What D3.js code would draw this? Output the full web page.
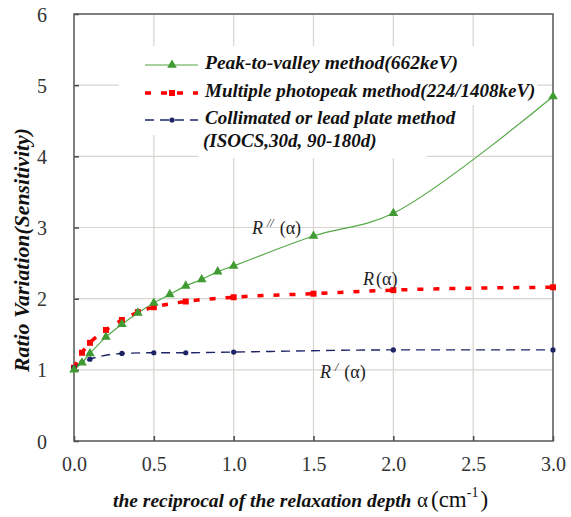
<!DOCTYPE html>
<html>
<head>
<meta charset="utf-8">
<script src="https://cdn.jsdelivr.net/npm/d3@7"></script>
<style>
  body { margin: 0; background: #fff; }
</style>
</head>
<body>
<svg id="chart" width="571" height="517"></svg>
<script>
// values
const peakX = [0, 0.05, 0.1, 0.2, 0.3, 0.4, 0.5, 0.6, 0.7, 0.8, 0.9, 1.0, 1.5, 2.0, 3.0];
const peakY = [1.0, 1.1, 1.23, 1.46, 1.64, 1.8, 1.94, 2.06, 2.18, 2.27, 2.38, 2.46, 2.88, 3.2, 4.84];

const multiX = [0, 0.05, 0.1, 0.2, 0.3, 0.4, 0.5, 0.7, 1.0, 1.5, 2.0, 3.0];
const multiY = [1.03, 1.24, 1.38, 1.56, 1.7, 1.81, 1.88, 1.96, 2.02, 2.07, 2.12, 2.16];

const collX = [0, 0.05, 0.1, 0.3, 0.5, 0.7, 1.0, 2.0, 3.0];
const collY = [1.03, 1.11, 1.15, 1.23, 1.24, 1.24, 1.25, 1.28, 1.28];

const xTicks = [0, 0.5, 1.0, 1.5, 2.0, 2.5, 3.0];
const yTicks = [0, 1, 2, 3, 4, 5, 6];

const legendLabels = [
	["Peak-to-valley method(662keV)"],
	["Multiple photopeak method(224/1408keV)"],
	["Collimated or lead plate method", "(ISOCS,30d, 90-180d)"]
];

const green = "#3f9b32", greenLine = "#52a844", red = "#ff0000", navy = "#1c2466";
const serif = "Liberation Serif";

const margin = { top: 14, right: 18, bottom: 76, left: 74 };
const width = 571 - margin.left - margin.right;
const height = 517 - margin.top - margin.bottom;

const svg = d3.select("#chart").attr("font-family", serif);
const g = svg.append("g").attr("transform", `translate(${margin.left},${margin.top})`);

const x = d3.scaleLinear().domain([0, 3]).range([0, width]);
const y = d3.scaleLinear().domain([0, 6]).range([height, 0]);

// grid
g.append("g")
	.selectAll("line")
	.data(xTicks.slice(1, -1))
	.join("line")
	.attr("x1", d => x(d)).attr("x2", d => x(d))
	.attr("y1", 0).attr("y2", height)
	.attr("stroke", "#d8d4cf").attr("stroke-width", 1.2);

g.append("g")
	.selectAll("line")
	.data(yTicks.slice(1, -1))
	.join("line")
	.attr("y1", d => y(d)).attr("y2", d => y(d))
	.attr("x1", 0).attr("x2", width)
	.attr("stroke", "#d8d4cf").attr("stroke-width", 1.2);

// legend background hides the grid behind the text
g.append("rect").attr("x", 45).attr("y", 32).attr("width", 418).attr("height", 59).attr("fill", "#fff");
g.append("rect").attr("x", 45).attr("y", 90).attr("width", 341).attr("height", 31).attr("fill", "#fff");
g.append("rect").attr("x", 124).attr("y", 120).attr("width", 229).attr("height", 24).attr("fill", "#fff");

// axes
const xAxis = d3.axisBottom(x).tickValues(xTicks).tickSize(-5).tickPadding(16).tickFormat(d3.format(".1f"));
const yAxis = d3.axisLeft(y).tickValues(yTicks).tickSize(-5).tickPadding(27).tickFormat(d3.format("d"));

const gx = g.append("g").attr("transform", `translate(0,${height})`).call(xAxis);
const gy = g.append("g").call(yAxis);

[gx, gy].forEach(a => {
	a.attr("font-family", serif);
	a.select(".domain").remove();
	a.selectAll("line").attr("stroke", "#444").attr("stroke-width", 1.5);
	a.selectAll("text").attr("font-size", 20).attr("fill", "#333");
});
gy.selectAll("text").attr("dy", "0.35em");

// frame
g.append("rect").attr("width", width).attr("height", height)
	.attr("fill", "none").attr("stroke", "#555").attr("stroke-width", 1.5);

// series
const series = [
	{ xs: peakX, ys: peakY, color: greenLine, width: 1.2, dash: null, curve: d3.curveCatmullRom },
	{ xs: multiX, ys: multiY, color: red, width: 3.5, dash: "6,10", curve: d3.curveMonotoneX },
	{ xs: collX, ys: collY, color: navy, width: 1.4, dash: "9,6", curve: d3.curveMonotoneX }
];

series.forEach(s => {
	const pts = s.xs.map((v, i) => [v, s.ys[i]]);
	const line = d3.line().x(d => x(d[0])).y(d => y(d[1])).curve(s.curve);
	g.append("path").datum(pts)
		.attr("d", line)
		.attr("fill", "none")
		.attr("stroke", s.color)
		.attr("stroke-width", s.width)
		.attr("stroke-dasharray", s.dash);
});

const tri = d3.symbol().type(d3.symbolTriangle).size(40);
const sq = d3.symbol().type(d3.symbolSquare).size(36);

g.append("g").selectAll("path")
	.data(multiX.map((v, i) => [v, multiY[i]]))
	.join("path")
	.attr("d", sq)
	.attr("transform", d => `translate(${x(d[0])},${y(d[1])})`)
	.attr("fill", red);

g.append("g").selectAll("circle")
	.data(collX.map((v, i) => [v, collY[i]]))
	.join("circle")
	.attr("cx", d => x(d[0])).attr("cy", d => y(d[1]))
	.attr("r", 2.6)
	.attr("fill", navy);

g.append("g").selectAll("path")
	.data(peakX.map((v, i) => [v, peakY[i]]))
	.join("path")
	.attr("d", tri)
	.attr("transform", d => `translate(${x(d[0])},${y(d[1])})`)
	.attr("fill", green);

// legend
const legendRows = [51, 79, 106];
const legendStyle = [
	{ color: greenLine, width: 1.2, dash: null, mark: "tri" },
	{ color: red, width: 3.5, dash: "6,10", mark: "sq" },
	{ color: navy, width: 1.4, dash: "9,6", mark: "dot" }
];

legendLabels.forEach((lines, i) => {
	const ly = legendRows[i];
	const st = legendStyle[i];
	const lg = g.append("g");
	lg.append("line")
		.attr("x1", 71).attr("x2", 124).attr("y1", ly).attr("y2", ly)
		.attr("stroke", st.color).attr("stroke-width", st.width)
		.attr("stroke-dasharray", st.dash);
	if (st.mark === "tri") {
		lg.append("path").attr("d", tri).attr("transform", `translate(98,${ly})`).attr("fill", green);
	} else if (st.mark === "sq") {
		lg.append("path").attr("d", sq).attr("transform", `translate(98,${ly})`).attr("fill", st.color);
	} else {
		lg.append("circle").attr("cx", 98).attr("cy", ly).attr("r", 2.6).attr("fill", st.color);
	}
	lines.forEach((t, j) => {
		lg.append("text")
			.attr("x", j ? 129 : 131).attr("y", ly + 4 + j * 23)
			.attr("font-size", i === 0 && !j ? 19.5 : 19).attr("font-style", "italic").attr("font-weight", "bold")
			.attr("fill", "#111")
			.text(t);
	});
});

// curve annotations
function annot(xp, yp, prime) {
	const t = g.append("text").attr("x", xp).attr("y", yp).attr("font-size", 18).attr("fill", "#222");
	t.append("tspan").attr("font-style", "italic").text("R");
	if (prime) t.append("tspan").attr("font-size", 12).attr("dy", -7).attr("dx", 4).attr("font-style", "italic").text(prime);
	t.append("tspan").attr("dy", prime ? 7 : 0).attr("dx", prime ? 6 : 2).text("(α)");
}
annot(252 - margin.left, 234 - margin.top, "//");
annot(363 - margin.left, 285 - margin.top, null);
annot(320 - margin.left, 378 - margin.top, "/");

// axis titles
const yt = svg.append("text")
	.attr("transform", "translate(29,250) rotate(-90)")
	.attr("text-anchor", "middle")
	.attr("font-size", 19).attr("font-style", "italic").attr("font-weight", "bold")
	.attr("fill", "#111")
	.text("Ratio Variation(Sensitivity)");
// the title runs from about y=128 to y=372 in the original
const ytLen = yt.node().getComputedTextLength();
if (ytLen > 0) yt.attr("font-size", Math.min(23, 19 * 244 / ytLen));

const xt = svg.append("text").attr("y", 507).attr("fill", "#111");
xt.append("tspan").attr("x", 113).attr("font-size", 19.5).attr("font-style", "italic").attr("font-weight", "bold")
	.text("the reciprocal of the relaxation depth");
xt.append("tspan").attr("x", 417).attr("font-size", 21).text("α");
xt.append("tspan").attr("x", 431).attr("font-size", 23).text("(cm");
xt.append("tspan").attr("font-size", 14).attr("dy", -10).text("-1");
xt.append("tspan").attr("font-size", 23).attr("dy", 10).attr("dx", 2).text(")");
</script>
</body>
</html>
